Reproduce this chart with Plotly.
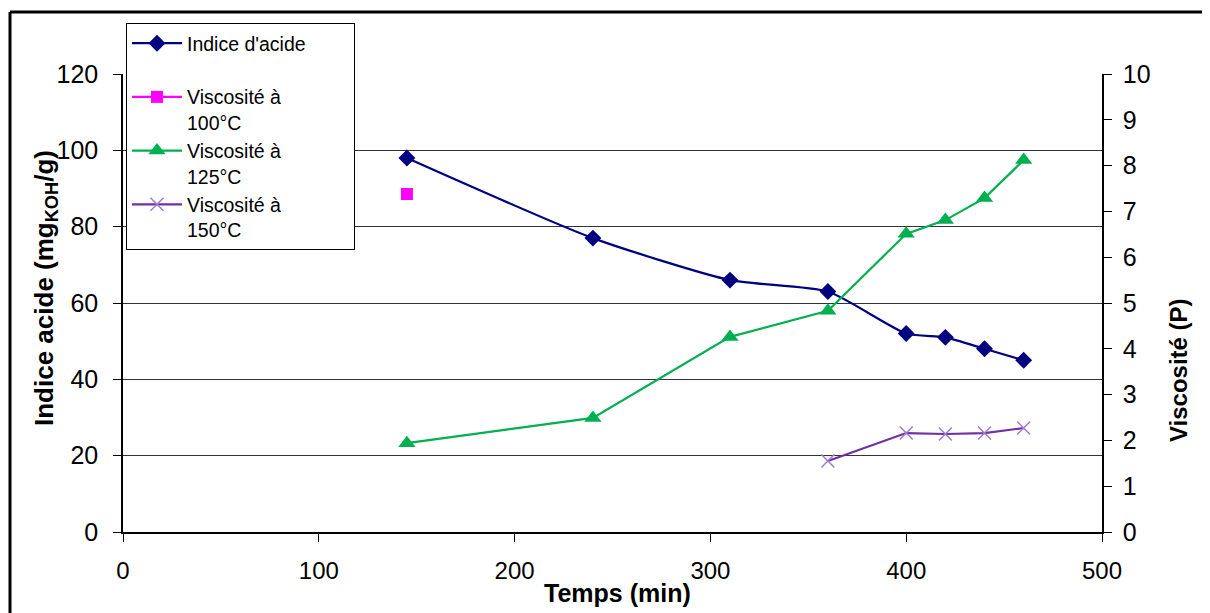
import plotly.graph_objects as go

# Data
temps_acide = [145, 240, 310, 360, 400, 420, 440, 460]
indice_acide = [98, 77, 66, 63, 52, 51, 48, 45]

temps_v100 = [145]
visc_100 = [7.38]

temps_v125 = [145, 240, 310, 360, 400, 420, 440, 460]
visc_125 = [1.94, 2.49, 4.26, 4.83, 6.51, 6.81, 7.29, 8.12]

temps_v150 = [360, 400, 420, 440, 460]
visc_150 = [1.55, 2.16, 2.14, 2.16, 2.27]

x_title = "Temps (min)"
y_title = "Indice acide (mg<sub>KOH</sub>/g)"
y2_title = "Viscosité (P)"

FONT = "Arial, Liberation Sans, sans-serif"
W, H = 1210, 613
OFF = 8  # page body margin
# plot area in screen pixels: x 123..1102, y 74..532
L = 123 - OFF
T = 74 - OFF
R = W - (1102 - OFF)
B = H - (532 - OFF)
PW, PH = W - L - R, H - T - B

def px_x(px):
    return (px - OFF - L) / PW

def px_y(py):
    return (H - B - (py - OFF)) / PH

NB = "\u00a0"
fig = go.Figure()
fig.add_trace(go.Scatter(
    x=temps_acide, y=indice_acide, name="Indice d'acide" + NB * 8 + "<br>" + NB,
    mode="lines+markers", line=dict(color="#000080", width=2.2, shape="spline", smoothing=0.6),
    marker=dict(symbol="diamond", size=13, color="#000080"), yaxis="y"))
fig.add_trace(go.Scatter(
    x=temps_v100, y=visc_100, name="Viscosité à<br>100°C",
    mode="lines+markers", line=dict(color="#FF00FF", width=2.2),
    marker=dict(symbol="square", size=12, color="#FF00FF"), yaxis="y2"))
fig.add_trace(go.Scatter(
    x=temps_v125, y=visc_125, name="Viscosité à<br>125°C",
    mode="lines+markers", line=dict(color="#00B050", width=2.2),
    marker=dict(symbol="triangle-up", size=15, color="#00B050"), yaxis="y2"))
fig.add_trace(go.Scatter(
    x=temps_v150, y=visc_150, name="Viscosité à<br>150°C",
    mode="lines+markers", line=dict(color="#7030A0", width=2.2),
    marker=dict(symbol="x-thin", size=13, line=dict(color="#A07CD0", width=1.5), color="#A07CD0"),
    yaxis="y2"))

fig.update_layout(
    width=W, height=H,
    margin=dict(l=L, r=R, t=T, b=B),
    paper_bgcolor="white", plot_bgcolor="white",
    font=dict(family=FONT, size=22, color="black"),
    xaxis=dict(range=[0, 500], dtick=100, tick0=0, showgrid=False, zeroline=False,
               showline=True, linecolor="black", linewidth=1.5,
               ticks="outside", ticklen=8, tickcolor="black",
               tickfont=dict(size=24), ticklabelstandoff=8),
    yaxis=dict(range=[0, 120], dtick=20, tick0=0, showgrid=True, gridcolor="#333333", gridwidth=1.2,
               zeroline=False, showline=True, linecolor="black", linewidth=1.5,
               ticks="outside", ticklen=8, tickcolor="black",
               tickfont=dict(size=25), ticklabelstandoff=10),
    yaxis2=dict(range=[0, 10], dtick=1, tick0=0, overlaying="y", side="right", showgrid=False,
                zeroline=False, showline=True, linecolor="black", linewidth=1.5,
                ticks="outside", ticklen=8, tickcolor="black",
                tickfont=dict(size=25), ticklabelstandoff=6),
    legend=dict(x=px_x(126), y=px_y(23), xanchor="left", yanchor="top",
                bgcolor="white", bordercolor="black", borderwidth=1,
                font=dict(size=19.5, family=FONT), valign="top",
                itemwidth=50, tracegroupgap=0),
    showlegend=True,
)

# axis titles placed where the reference shows them
fig.add_annotation(text="<b>" + x_title + "</b>", xref="paper", yref="paper",
                   x=px_x(617), y=px_y(593), showarrow=False,
                   xanchor="center", yanchor="middle", font=dict(size=25))
fig.add_annotation(text="<b>" + y_title + "</b>", xref="paper", yref="paper",
                   x=px_x(45), y=px_y(288), showarrow=False, textangle=-90,
                   xanchor="center", yanchor="middle", font=dict(size=26))
fig.add_annotation(text="<b>" + y2_title + "</b>", xref="paper", yref="paper",
                   x=px_x(1178), y=px_y(370), showarrow=False, textangle=-90,
                   xanchor="center", yanchor="middle", font=dict(size=24))

# outer frame of the picture
fig.add_shape(type="line", xref="paper", yref="paper",
              x0=px_x(10), x1=px_x(10), y0=px_y(660), y1=px_y(12),
              line=dict(color="black", width=3))
fig.add_shape(type="line", xref="paper", yref="paper",
              x0=px_x(10), x1=px_x(1240), y0=px_y(12), y1=px_y(12),
              line=dict(color="black", width=3))

fig.write_html("out.html")
